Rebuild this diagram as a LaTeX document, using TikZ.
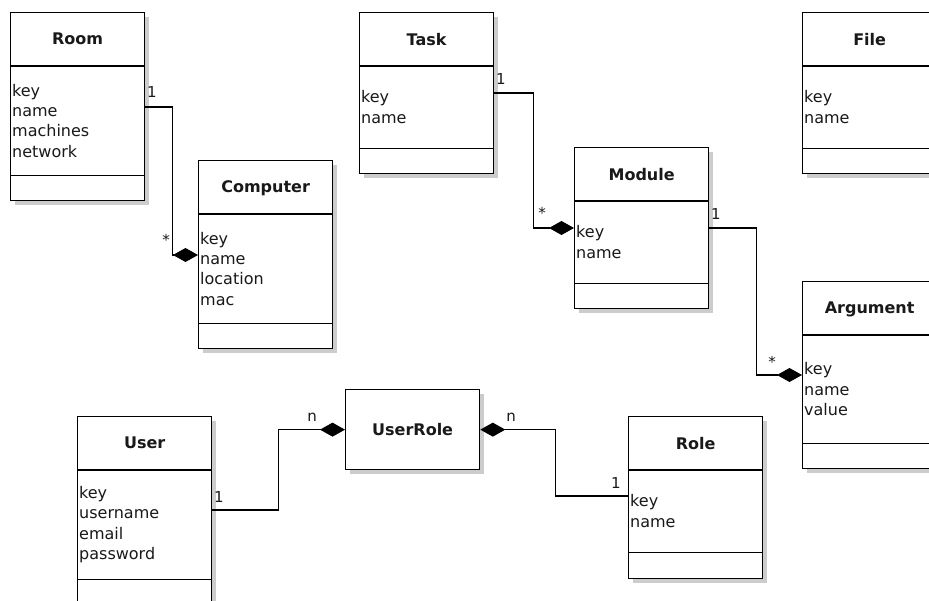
\documentclass[tikz,border=0pt]{standalone}
\usepackage{fontspec}
\setmainfont{DejaVu Sans}
\usetikzlibrary{arrows.meta,shadows,calc}

\tikzset{
  classbox/.style={draw=black, line width=1.3pt, fill=white, minimum width=134pt,
    anchor=north west, inner sep=0pt,
    drop shadow={shadow xshift=4pt, shadow yshift=-4pt, fill=black!20, opacity=1}},
  classtitle/.style={font=\fontsize{16pt}{20pt}\selectfont\bfseries, inner sep=0pt,
    text depth=0pt, text=black!90},
  attrs/.style={font=\fontsize{16pt}{20.3pt}\selectfont, align=left, anchor=west,
    inner xsep=2pt, inner ysep=0pt, text=black!90},
  sep/.style={line width=1.1pt},
  assoc/.style={line width=1.2pt},
  comp/.style={-{Diamond[length=25pt,width=14pt]}},
  mult/.style={font=\fontsize{15pt}{18pt}\selectfont, anchor=base, inner sep=0pt, text=black!90},
}

% #1 name, #2 top-left corner, #3 attribute compartment height,
% #4 operation compartment height, #5 class name, #6 attribute lines
\newcommand{\umlclass}[6]{%
  \node[classbox, minimum height=54pt+#3pt+#4pt] (#1) at (#2) {};
  \node[classtitle] (#1-title) at ([yshift=-27pt]#1.north) {#5};
  \coordinate (#1-a) at ([yshift=-54pt]#1.north west);
  \coordinate (#1-b) at ([yshift=#4pt]#1.south west);
  \draw[sep] (#1-a) -- (#1-a -| #1.east);
  \draw[sep] (#1-b) -- (#1-b -| #1.east);
  \node[attrs] (#1-attrs) at ($(#1-a)!0.5!(#1-b)$) {#6};
}

\begin{document}
\begin{tikzpicture}[x=1pt, y=-1pt]
  \clip (0,0) rectangle (929,601);
  \fill[white] (0,0) rectangle (929,601);

  % classes
  \umlclass{room}{10,12}{108}{26}{Room}{key\\name\\machines\\network}
  \umlclass{computer}{198,160}{108}{26}{Computer}{key\\name\\location\\mac}
  \umlclass{task}{359,12}{81}{26}{Task}{key\\name}
  \umlclass{module}{574,147}{81}{26}{Module}{key\\name}
  \umlclass{file}{802,12}{81}{26}{File}{key\\name}
  \umlclass{argument}{802,281}{107}{26}{Argument}{key\\name\\value}
  \umlclass{user}{77,416}{108}{26}{User}{key\\username\\email\\password}
  \umlclass{role}{628,416}{81}{27}{Role}{key\\name}

  % association class
  \node[classbox, minimum height=80pt] (userrole) at (345,389) {};
  \node[classtitle] (userrole-title) at (userrole.center) {UserRole};

  % compositions
  \draw[assoc, comp] ([yshift=-95pt]room.north east) -- ++(27,0)
    |- ([yshift=-95pt]computer.north west);
  \draw[assoc, comp] ([yshift=-81pt]task.north east) -- ++(39,0)
    |- ([yshift=-81pt]module.north west);
  \draw[assoc, comp] ([yshift=-81pt]module.north east) -- ++(47,0)
    |- ([yshift=-94pt]argument.north west);
  \draw[assoc, comp] ([yshift=-94pt]user.north east) -- ++(66,0)
    |- (userrole.west);
  \draw[assoc, {Diamond[length=25pt,width=14pt]}-] (userrole.east) -- ++(75,0)
    |- ([yshift=-80pt]role.north west);

  % multiplicities
  \node[mult] (m-room) at (152,98) {1};
  \node[mult] (m-computer) at (166,246) {*};
  \node[mult] (m-task) at (501,85) {1};
  \node[mult] (m-module-l) at (542,219) {*};
  \node[mult] (m-module-r) at (716,220) {1};
  \node[mult] (m-argument) at (772,368) {*};
  \node[mult] (m-user) at (219,502) {1};
  \node[mult] (m-ur-l) at (312,421) {n};
  \node[mult] (m-ur-r) at (511,421) {n};
  \node[mult] (m-role) at (616,488) {1};
\end{tikzpicture}
\end{document}
